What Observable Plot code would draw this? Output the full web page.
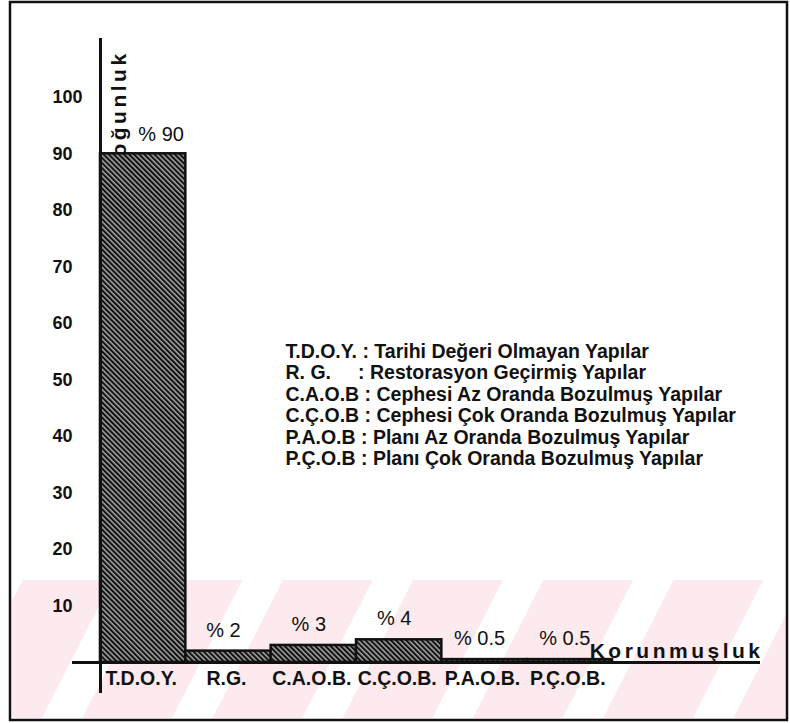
<!DOCTYPE html>
<html>
<head>
<meta charset="utf-8">
<script src="https://cdn.jsdelivr.net/npm/d3@7"></script>
<script src="https://cdn.jsdelivr.net/npm/@observablehq/plot@0.6"></script>
<style>
  html, body { margin: 0; padding: 0; background: #fff; }
</style>
</head>
<body>
<div id="chart"></div>
<script>
// ---- data ----
const categories = ["T.D.O.Y.", "R.G.", "C.A.O.B.", "C.Ç.O.B.", "P.A.O.B.", "P.Ç.O.B."];
const values = [90, 2, 3, 4, 0.5, 0.5];
const yTicks = [10, 20, 30, 40, 50, 60, 70, 80, 90, 100];
const legendLines = [
  "T.D.O.Y. : Tarihi Değeri Olmayan Yapılar",
  "R. G.\u00a0\u00a0\u00a0\u00a0\u00a0: Restorasyon Geçirmiş Yapılar",
  "C.A.O.B : Cephesi Az Oranda Bozulmuş Yapılar",
  "C.Ç.O.B : Cephesi Çok Oranda Bozulmuş Yapılar",
  "P.A.O.B : Planı Az Oranda Bozulmuş Yapılar",
  "P.Ç.O.B : Planı Çok Oranda Bozulmuş Yapılar"
];
const yTitle = "Yoğunluk";
const xTitle = "Korunmuşluk";

const data = categories.map((c, i) => ({cat: c, value: values[i], i}));
const font = "'Liberation Sans', Arial, Helvetica, sans-serif";
const ink = "#111";

const svg = Plot.plot({
  width: 790,
  height: 723,
  marginLeft: 72,
  marginRight: 30,
  marginTop: 38,
  marginBottom: 30,
  style: {fontFamily: font, fontSize: "20px", background: "transparent", color: ink},
  x: {type: "linear", domain: [-0.328, 7.734], axis: null},
  y: {type: "linear", domain: [-5.5, 110.4], axis: null},
  marks: [
    // vertical axis title (drawn first, partly hidden by the first bar)
    Plot.text([yTitle], {frameAnchor: "top-left", dx: 39, dy: 134, rotate: -90, textAnchor: "start",
      fontWeight: "bold", fontSize: 21, fill: ink, ariaLabel: () => "spaced-label"}),
    // bars
    Plot.rectY(data, {x1: d => d.i, x2: d => d.i + 1, y: "value", fill: "url(#hatch)", stroke: ink, strokeWidth: 2.5}),
    // axes lines
    Plot.ruleY([0], {stroke: ink, strokeWidth: 3}),
    Plot.ruleX([0], {y1: -5.5, y2: 110.4, stroke: ink, strokeWidth: 3}),
    // y tick labels
    Plot.text(yTicks, {y: d => d, text: d => String(d), frameAnchor: "left", textAnchor: "start", dx: -20,
      fontWeight: "bold", fontSize: 18, fill: ink}),
    // category labels
    Plot.text(data, {x: d => d.i + 0.5, y: () => 0, text: "cat", dy: 16, dx: -2, fontWeight: "bold", fontSize: 19.5, fill: ink}),
    // value labels (first one sits right of the vertical title)
    Plot.text(data.filter(d => d.i === 0), {x: d => d.i + 0.5, y: "value", text: d => `% ${d.value}`, dy: -19, dx: 18, fontSize: 20, fill: ink}),
    Plot.text(data.filter(d => d.i > 0), {x: d => d.i + 0.5, y: "value", text: d => `% ${d.value}`, dy: -21, dx: -5, fontSize: 20, fill: ink}),
    // horizontal axis title
    Plot.text([xTitle], {frameAnchor: "right", y: () => 0, textAnchor: "end", lineAnchor: "bottom", dy: -4, dx: 3,
      fontWeight: "bold", fontSize: 21, fill: ink, ariaLabel: () => "spaced-label"}),
    // legend block
    Plot.text([legendLines.join("\n")], {frameAnchor: "top-left", dx: 213, dy: 304, textAnchor: "start",
      lineAnchor: "top", lineHeight: 1.1, fontWeight: "bold", fontSize: 19.5, fill: ink})
  ]
});

// decorations: hatch pattern, watermark band, frame border
const s = d3.select(svg);
s.selectAll('[aria-label="spaced-label"]').style("letter-spacing", "3.5px");
s.insert("rect", ":first-child")
  .attr("x", 12).attr("y", 580).attr("width", 775).attr("height", 138)
  .attr("fill", "url(#wm)");
const defs = s.insert("defs", ":first-child");
const hatch = defs.append("pattern").attr("id", "hatch").attr("patternUnits", "userSpaceOnUse")
  .attr("width", 3.6).attr("height", 3.6).attr("patternTransform", "rotate(-45)");
hatch.append("rect").attr("width", 3.6).attr("height", 3.6).attr("fill", "#111");
hatch.append("rect").attr("x", 1.4).attr("width", 0.95).attr("height", 3.6).attr("fill", "#fff");
const wm = defs.append("pattern").attr("id", "wm").attr("patternUnits", "userSpaceOnUse")
  .attr("width", 116).attr("height", 10).attr("patternTransform", "translate(318,0) rotate(27)");
wm.append("rect").attr("width", 80).attr("height", 10).attr("fill", "#fceaee");
s.append("rect").attr("x", 10).attr("y", 2).attr("width", 777).attr("height", 718)
  .attr("fill", "none").attr("stroke", ink).attr("stroke-width", 2.5);

document.getElementById("chart").appendChild(svg);
</script>
</body>
</html>
